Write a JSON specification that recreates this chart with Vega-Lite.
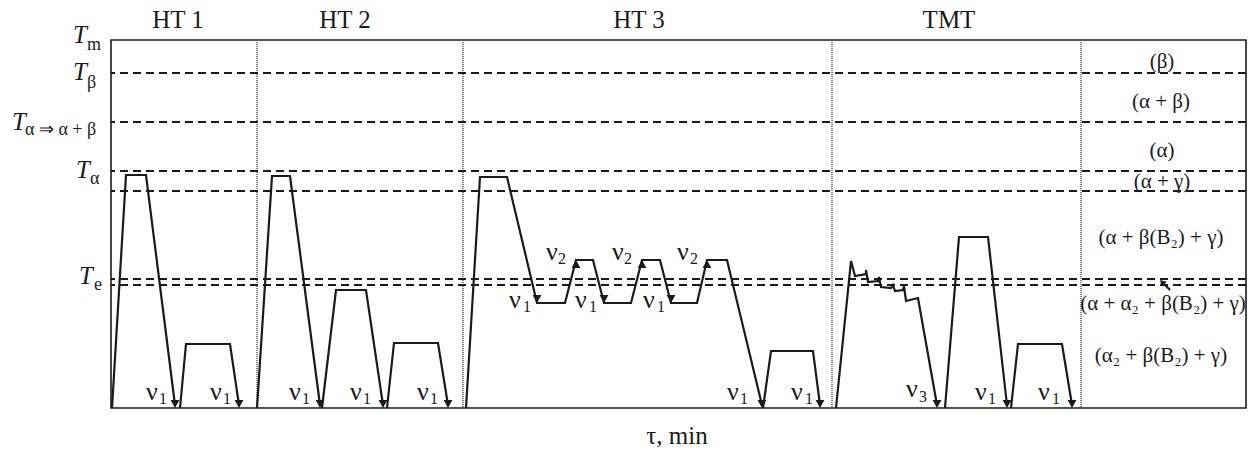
{
  "$schema": "https://vega.github.io/schema/vega-lite/v6.json",
  "width": 1135,
  "height": 368,
  "autosize": "none",
  "padding": {"left": 111, "top": 40, "right": 6, "bottom": 43},
  "config": {
    "view": {"stroke": "#1a1a1a", "strokeWidth": 1.6},
    "font": "Liberation Serif, Times New Roman, serif",
    "text": {"font": "Liberation Serif, Times New Roman, serif"}
  },
  "datasets": {
    "vlines": [{"x": 146}, {"x": 352}, {"x": 721}, {"x": 970}],
    "hlines": [{"y": 335}, {"y": 286}, {"y": 237}, {"y": 217}, {"y": 129}, {"y": 123}],
    "paths": [
      {"seg": "a", "i": 0, "x": 1, "y": 0}, {"seg": "a", "i": 1, "x": 15, "y": 233}, {"seg": "a", "i": 2, "x": 35, "y": 233}, {"seg": "a", "i": 3, "x": 64, "y": 3},
      {"seg": "b", "i": 0, "x": 69, "y": 0}, {"seg": "b", "i": 1, "x": 75, "y": 64}, {"seg": "b", "i": 2, "x": 119, "y": 64}, {"seg": "b", "i": 3, "x": 128, "y": 3},
      {"seg": "c", "i": 0, "x": 146, "y": 0}, {"seg": "c", "i": 1, "x": 161, "y": 232}, {"seg": "c", "i": 2, "x": 179, "y": 232}, {"seg": "c", "i": 3, "x": 209, "y": 3},
      {"seg": "d", "i": 0, "x": 211, "y": 0}, {"seg": "d", "i": 1, "x": 225, "y": 118}, {"seg": "d", "i": 2, "x": 255, "y": 118}, {"seg": "d", "i": 3, "x": 272, "y": 3},
      {"seg": "e", "i": 0, "x": 276, "y": 0}, {"seg": "e", "i": 1, "x": 283, "y": 65}, {"seg": "e", "i": 2, "x": 327, "y": 65}, {"seg": "e", "i": 3, "x": 337, "y": 3},
      {"seg": "f", "i": 0, "x": 355, "y": 0}, {"seg": "f", "i": 1, "x": 369, "y": 231}, {"seg": "f", "i": 2, "x": 396, "y": 231}, {"seg": "f", "i": 3, "x": 426, "y": 105},
      {"seg": "f", "i": 4, "x": 454, "y": 105}, {"seg": "f", "i": 5, "x": 465, "y": 148}, {"seg": "f", "i": 6, "x": 482, "y": 148}, {"seg": "f", "i": 7, "x": 493, "y": 105},
      {"seg": "f", "i": 8, "x": 520, "y": 105}, {"seg": "f", "i": 9, "x": 531, "y": 148}, {"seg": "f", "i": 10, "x": 549, "y": 148}, {"seg": "f", "i": 11, "x": 560, "y": 105},
      {"seg": "f", "i": 12, "x": 586, "y": 105}, {"seg": "f", "i": 13, "x": 596, "y": 148}, {"seg": "f", "i": 14, "x": 616, "y": 148}, {"seg": "f", "i": 15, "x": 651, "y": 3},
      {"seg": "g", "i": 0, "x": 652, "y": 0}, {"seg": "g", "i": 1, "x": 660, "y": 57}, {"seg": "g", "i": 2, "x": 702, "y": 57}, {"seg": "g", "i": 3, "x": 709, "y": 3},
      {"seg": "h", "i": 0, "x": 725, "y": 0}, {"seg": "h", "i": 1, "x": 740, "y": 147}, {"seg": "h", "i": 2, "x": 744, "y": 132}, {"seg": "h", "i": 3, "x": 755, "y": 134},
      {"seg": "h", "i": 4, "x": 755, "y": 138}, {"seg": "h", "i": 5, "x": 757, "y": 126}, {"seg": "h", "i": 6, "x": 767, "y": 127}, {"seg": "h", "i": 7, "x": 768, "y": 131},
      {"seg": "h", "i": 8, "x": 770, "y": 121}, {"seg": "h", "i": 9, "x": 780, "y": 120}, {"seg": "h", "i": 10, "x": 782, "y": 123}, {"seg": "h", "i": 11, "x": 784, "y": 117},
      {"seg": "h", "i": 12, "x": 792, "y": 118}, {"seg": "h", "i": 13, "x": 793, "y": 122}, {"seg": "h", "i": 14, "x": 795, "y": 107}, {"seg": "h", "i": 15, "x": 807, "y": 110},
      {"seg": "h", "i": 16, "x": 826, "y": 3},
      {"seg": "i", "i": 0, "x": 834, "y": 0}, {"seg": "i", "i": 1, "x": 848, "y": 171}, {"seg": "i", "i": 2, "x": 877, "y": 171}, {"seg": "i", "i": 3, "x": 896, "y": 3},
      {"seg": "j", "i": 0, "x": 900, "y": 0}, {"seg": "j", "i": 1, "x": 907, "y": 64}, {"seg": "j", "i": 2, "x": 951, "y": 64}, {"seg": "j", "i": 3, "x": 961, "y": 3},
      {"seg": "k", "i": 0, "x": 1059, "y": 118}, {"seg": "k", "i": 1, "x": 1051, "y": 126}
    ],
    "arrowsDown": [
      {"x": 64, "y": 0}, {"x": 128, "y": 0}, {"x": 209, "y": 0}, {"x": 272, "y": 0}, {"x": 337, "y": 0},
      {"x": 426, "y": 105}, {"x": 493, "y": 105}, {"x": 560, "y": 105}, {"x": 651, "y": 0}, {"x": 709, "y": 0},
      {"x": 826, "y": 0}, {"x": 896, "y": 0}, {"x": 961, "y": 0}
    ],
    "arrowsUp": [{"x": 465, "y": 148}, {"x": 531, "y": 148}, {"x": 596, "y": 148}],
    "arrowsTilt": [{"x": 1049, "y": 128}],
    "nu": [
      {"x": 35, "y": 8}, {"x": 99, "y": 8}, {"x": 178, "y": 8}, {"x": 239, "y": 8}, {"x": 306, "y": 8},
      {"x": 398, "y": 100}, {"x": 435, "y": 148}, {"x": 464, "y": 100}, {"x": 501, "y": 148}, {"x": 532, "y": 100},
      {"x": 566, "y": 148}, {"x": 616, "y": 8}, {"x": 680, "y": 8}, {"x": 795, "y": 11}, {"x": 864, "y": 8}, {"x": 927, "y": 8}
    ],
    "nuSub": [
      {"x": 48, "y": 4, "t": "1"}, {"x": 112, "y": 4, "t": "1"}, {"x": 191, "y": 4, "t": "1"}, {"x": 252, "y": 4, "t": "1"},
      {"x": 319, "y": 4, "t": "1"}, {"x": 412, "y": 96, "t": "1"}, {"x": 447, "y": 144, "t": "2"}, {"x": 478, "y": 96, "t": "1"},
      {"x": 513, "y": 144, "t": "2"}, {"x": 546, "y": 96, "t": "1"}, {"x": 579, "y": 144, "t": "2"}, {"x": 629, "y": 4, "t": "1"},
      {"x": 694, "y": 4, "t": "1"}, {"x": 808, "y": 6, "t": "3"}, {"x": 877, "y": 4, "t": "1"}, {"x": 941, "y": 4, "t": "1"}
    ],
    "tLabels": [{"x": -38, "y": 365}, {"x": -38, "y": 328}, {"x": -99, "y": 278}, {"x": -35, "y": 230}, {"x": -32, "y": 124}],
    "tSubs": [
      {"x": -24, "y": 358, "t": "m"}, {"x": -24, "y": 320, "t": "β"}, {"x": -86, "y": 273, "t": "α ⇒ α + β"},
      {"x": -21, "y": 224, "t": "α"}, {"x": -17, "y": 118, "t": "e"}
    ],
    "titles": [
      {"x": 67, "y": 380, "t": "HT 1"}, {"x": 234, "y": 380, "t": "HT 2"}, {"x": 528, "y": 380, "t": "HT 3"},
      {"x": 838, "y": 380, "t": "TMT"}, {"x": 566, "y": -36, "t": "τ, min"}
    ],
    "regions": [
      {"x": 1051, "y": 340, "t": "(β)"}, {"x": 1050, "y": 300, "t": "(α + β)"}, {"x": 1051, "y": 251, "t": "(α)"},
      {"x": 1051, "y": 220, "t": "(α + γ)"}, {"x": 1050, "y": 164, "t": "(α + β(B₂) + γ)"},
      {"x": 1052, "y": 98, "t": "(α + α₂ + β(B₂) + γ)"}, {"x": 1050, "y": 46, "t": "(α₂ + β(B₂) + γ)"}
    ]
  },
  "layer": [
    {
      "data": {"name": "vlines"},
      "mark": {"type": "rule", "color": "#555", "strokeWidth": 1.5, "strokeDash": [1, 1]},
      "encoding": {"x": {"field": "x", "type": "quantitative", "scale": {"domain": [0, 1135], "nice": false, "zero": false}, "axis": null}}
    },
    {
      "data": {"name": "hlines"},
      "mark": {"type": "rule", "color": "#1a1a1a", "strokeWidth": 2, "strokeDash": [8, 5]},
      "encoding": {"y": {"field": "y", "type": "quantitative", "scale": {"domain": [0, 368], "nice": false, "zero": false}, "axis": null}}
    },
    {
      "data": {"name": "paths"},
      "mark": {"type": "line", "color": "#1a1a1a", "strokeWidth": 2.2, "strokeJoin": "miter"},
      "encoding": {
        "x": {"field": "x", "type": "quantitative", "scale": {"domain": [0, 1135], "nice": false, "zero": false}, "axis": null},
        "y": {"field": "y", "type": "quantitative", "scale": {"domain": [0, 368], "nice": false, "zero": false}, "axis": null},
        "detail": {"field": "seg"},
        "order": {"field": "i", "type": "quantitative"}
      }
    },
    {
      "data": {"name": "arrowsDown"},
      "mark": {"type": "point", "shape": "M-0.55,-1L0.55,-1L0,0Z", "size": 256, "filled": true, "color": "#1a1a1a", "opacity": 1, "strokeWidth": 0},
      "encoding": {
        "x": {"field": "x", "type": "quantitative", "scale": {"domain": [0, 1135], "nice": false, "zero": false}, "axis": null},
        "y": {"field": "y", "type": "quantitative", "scale": {"domain": [0, 368], "nice": false, "zero": false}, "axis": null}
      }
    },
    {
      "data": {"name": "arrowsUp"},
      "mark": {"type": "point", "shape": "M-0.55,1L0.55,1L0,0Z", "size": 256, "filled": true, "color": "#1a1a1a", "opacity": 1, "strokeWidth": 0},
      "encoding": {
        "x": {"field": "x", "type": "quantitative", "scale": {"domain": [0, 1135], "nice": false, "zero": false}, "axis": null},
        "y": {"field": "y", "type": "quantitative", "scale": {"domain": [0, 368], "nice": false, "zero": false}, "axis": null}
      }
    },
    {
      "data": {"name": "arrowsTilt"},
      "mark": {"type": "point", "shape": "M-0.6,1L0.6,1L0,0Z", "size": 144, "filled": true, "color": "#1a1a1a", "opacity": 1, "strokeWidth": 0, "angle": -45},
      "encoding": {
        "x": {"field": "x", "type": "quantitative", "scale": {"domain": [0, 1135], "nice": false, "zero": false}, "axis": null},
        "y": {"field": "y", "type": "quantitative", "scale": {"domain": [0, 368], "nice": false, "zero": false}, "axis": null}
      }
    },
    {
      "data": {"name": "nu"},
      "mark": {"type": "text", "text": "ν", "font": "Liberation Serif, Times New Roman, serif", "fontSize": 26, "align": "left", "baseline": "alphabetic", "color": "#1a1a1a"},
      "encoding": {
        "x": {"field": "x", "type": "quantitative", "scale": {"domain": [0, 1135], "nice": false, "zero": false}, "axis": null},
        "y": {"field": "y", "type": "quantitative", "scale": {"domain": [0, 368], "nice": false, "zero": false}, "axis": null}
      }
    },
    {
      "data": {"name": "nuSub"},
      "mark": {"type": "text", "font": "Liberation Serif, Times New Roman, serif", "fontSize": 16, "align": "left", "baseline": "alphabetic", "color": "#1a1a1a"},
      "encoding": {
        "x": {"field": "x", "type": "quantitative", "scale": {"domain": [0, 1135], "nice": false, "zero": false}, "axis": null},
        "y": {"field": "y", "type": "quantitative", "scale": {"domain": [0, 368], "nice": false, "zero": false}, "axis": null},
        "text": {"field": "t"}
      }
    },
    {
      "data": {"name": "tLabels"},
      "mark": {"type": "text", "text": "T", "font": "Liberation Serif, Times New Roman, serif", "fontSize": 25, "fontStyle": "italic", "align": "left", "baseline": "alphabetic", "color": "#1a1a1a"},
      "encoding": {
        "x": {"field": "x", "type": "quantitative", "scale": {"domain": [0, 1135], "nice": false, "zero": false}, "axis": null},
        "y": {"field": "y", "type": "quantitative", "scale": {"domain": [0, 368], "nice": false, "zero": false}, "axis": null}
      }
    },
    {
      "data": {"name": "tSubs"},
      "mark": {"type": "text", "font": "Liberation Serif, Times New Roman, serif", "fontSize": 18, "align": "left", "baseline": "alphabetic", "color": "#1a1a1a"},
      "encoding": {
        "x": {"field": "x", "type": "quantitative", "scale": {"domain": [0, 1135], "nice": false, "zero": false}, "axis": null},
        "y": {"field": "y", "type": "quantitative", "scale": {"domain": [0, 368], "nice": false, "zero": false}, "axis": null},
        "text": {"field": "t"}
      }
    },
    {
      "data": {"name": "titles"},
      "mark": {"type": "text", "font": "Liberation Serif, Times New Roman, serif", "fontSize": 25, "align": "center", "baseline": "alphabetic", "color": "#1a1a1a"},
      "encoding": {
        "x": {"field": "x", "type": "quantitative", "scale": {"domain": [0, 1135], "nice": false, "zero": false}, "axis": null},
        "y": {"field": "y", "type": "quantitative", "scale": {"domain": [0, 368], "nice": false, "zero": false}, "axis": null},
        "text": {"field": "t"}
      }
    },
    {
      "data": {"name": "regions"},
      "mark": {"type": "text", "font": "Liberation Serif, Times New Roman, serif", "fontSize": 21, "align": "center", "baseline": "alphabetic", "color": "#1a1a1a"},
      "encoding": {
        "x": {"field": "x", "type": "quantitative", "scale": {"domain": [0, 1135], "nice": false, "zero": false}, "axis": null},
        "y": {"field": "y", "type": "quantitative", "scale": {"domain": [0, 368], "nice": false, "zero": false}, "axis": null},
        "text": {"field": "t"}
      }
    }
  ]
}
